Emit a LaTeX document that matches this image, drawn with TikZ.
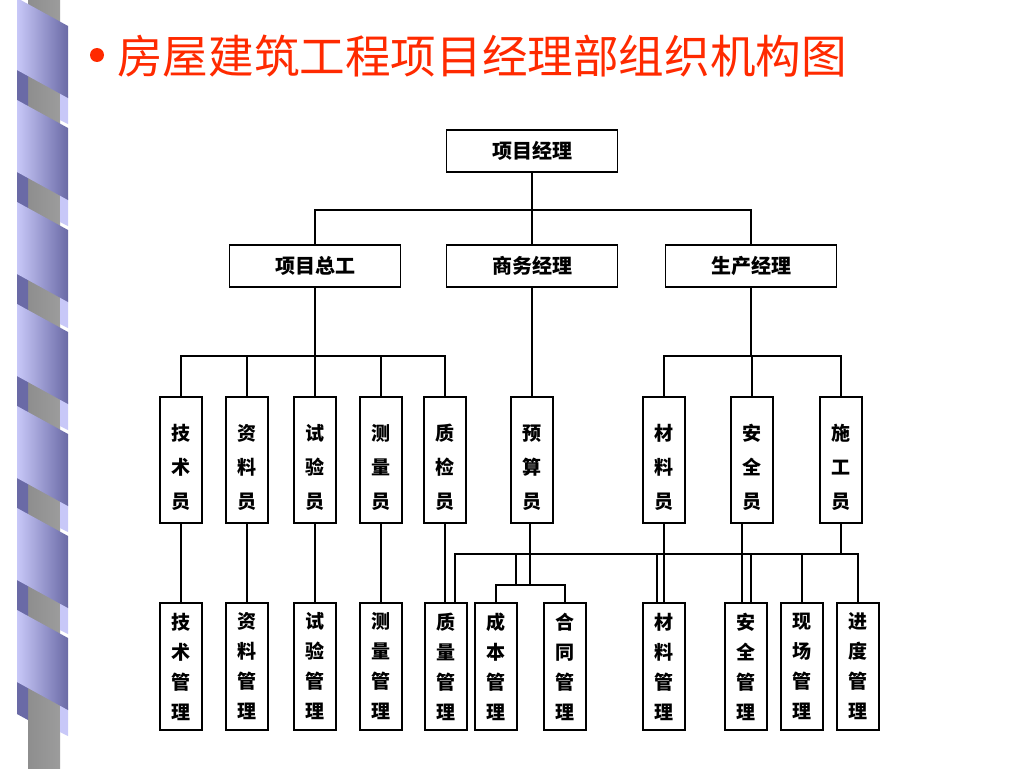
\documentclass[tikz,border=0pt]{standalone}
\usepackage{fontspec}
\newfontfamily\cjk{Noto Sans CJK SC}
\usetikzlibrary{calc}
\definecolor{titlered}{HTML}{FF2A00}
\definecolor{bandlight}{HTML}{C8C8F8}
\definecolor{banddark}{HTML}{6A6AA6}
\definecolor{cylL}{HTML}{8E8E8E}
\definecolor{cylM}{HTML}{F2F2F2}
\definecolor{cylR}{HTML}{9C9C9C}
\newcommand\vpad{\rule{0pt}{31pt}}
\tikzset{
  hbox/.style={draw, line width=1.8pt, minimum width=171pt, minimum height=42pt, inner sep=0pt,
    font=\cjk\bfseries\fontsize{20}{24}\selectfont},
  vbox/.style={draw, line width=1.8pt, minimum width=42pt, minimum height=126pt, inner sep=0pt,
    align=center, font=\cjk\bfseries\fontsize{19}{34}\selectfont},
  mbox/.style={draw, line width=1.8pt, minimum width=42pt, minimum height=127pt, inner sep=0pt,
    align=center, font=\cjk\bfseries\fontsize{19}{30}\selectfont},
  link/.style={line width=2pt},
}
\begin{document}
\begin{tikzpicture}[x=1pt,y=-1pt]
\useasboundingbox (0,0) rectangle (1024,768);
\fill[white] (0,0) rectangle (1024,768);
% decorative spiral border
\shade[left color=cylL, middle color=cylM, right color=cylR] (28,0) rectangle (60,768);
\foreach \yy in {-2,100,202,304,406,508,610}{
  \fill[banddark] (17,\yy+70) -- (28,\yy+76) -- (28,\yy+110) -- (17,\yy+104) -- cycle;
  \fill[bandlight] (60,\yy+94) -- (68,\yy+98) -- (68,\yy+126) -- (60,\yy+122) -- cycle;
}
\foreach \yy in {-2,100,202,304,406,508,610}{
  \shade[left color=bandlight, right color=banddark] (17,\yy) -- (68,\yy+28) -- (68,\yy+100) -- (17,\yy+72) -- cycle;
}
% title
\fill[titlered] (97,55) circle (7);
\node[anchor=west, inner sep=0pt, text=titlered, font=\cjk\fontsize{45.6}{50}\selectfont] (title) at (117,56) {房屋建筑工程项目经理部组织机构图};
% level 1-2
\node[hbox] (pm) at (532,151) {项目经理};
\node[hbox] (chief) at (315,266) {项目总工};
\node[hbox] (biz) at (532,266) {商务经理};
\node[hbox] (prod) at (751,266) {生产经理};
% level 3
\node[vbox] (r1) at (181,460) {\vpad 技\\术\\员};
\node[vbox] (r2) at (247,460) {\vpad 资\\料\\员};
\node[vbox] (r3) at (315,460) {\vpad 试\\验\\员};
\node[vbox] (r4) at (381,460) {\vpad 测\\量\\员};
\node[vbox] (r5) at (445,460) {\vpad 质\\检\\员};
\node[vbox] (r6) at (532,460) {\vpad 预\\算\\员};
\node[vbox] (r7) at (664,460) {\vpad 材\\料\\员};
\node[vbox] (r8) at (752,460) {\vpad 安\\全\\员};
\node[vbox] (r9) at (841,460) {\vpad 施\\工\\员};
% level 4
\node[mbox] (m1) at (181,666.5) {技\\术\\管\\理};
\node[mbox] (m2) at (247,666.5) {资\\料\\管\\理};
\node[mbox] (m3) at (315,666.5) {试\\验\\管\\理};
\node[mbox] (m4) at (381,666.5) {测\\量\\管\\理};
\node[mbox] (m5) at (446,666.5) {质\\量\\管\\理};
\node[mbox] (m6) at (496,666.5) {成\\本\\管\\理};
\node[mbox] (m7) at (565,666.5) {合\\同\\管\\理};
\node[mbox] (m8) at (664,666.5) {材\\料\\管\\理};
\node[mbox] (m9) at (746,666.5) {安\\全\\管\\理};
\node[mbox] (m10) at (802,666.5) {现\\场\\管\\理};
\node[mbox] (m11) at (858,666.5) {进\\度\\管\\理};
% bus levels
\coordinate (busT) at (0,210);
\coordinate (busL) at (0,356);
\coordinate (busB) at (0,554);
\coordinate (busC) at (0,585);
% connectors top
\draw[link] (pm.south) -- (biz.north);
\draw[link] (chief.north) -- (chief.north |- busT) -- (prod.north |- busT) -- (prod.north);
\draw[link] (chief.south) -- (chief.south |- busL);
\draw[link] (r1.north) -- (r1.north |- busL) -- (r5.north |- busL) -- (r5.north);
\draw[link] (r2.north) -- (r2.north |- busL);
\draw[link] (r3.north) -- (r3.north |- busL);
\draw[link] (r4.north) -- (r4.north |- busL);
\draw[link] (biz.south) -- (r6.north);
\draw[link] (prod.south) -- (prod.south |- busL);
\draw[link] (r7.north) -- (r7.north |- busL) -- (r9.north |- busL) -- (r9.north);
\draw[link] (r8.north) -- (r8.north |- busL);
% connectors level 3 -> 4
\draw[link] (r1.south) -- (r1.south |- m1.north);
\draw[link] (r2.south) -- (r2.south |- m2.north);
\draw[link] (r3.south) -- (r3.south |- m3.north);
\draw[link] (r4.south) -- (r4.south |- m4.north);
\draw[link] (r5.south) -- (r5.south |- m5.north);
\draw[link] (r7.south) -- (m8.north);
\draw[link] ($(r8.south)+(-10,0)$) coordinate (s8) -- (s8 |- m9.north);
\draw[link] (r9.south) -- (r9.south |- busB);
\draw[link] ($(m5.north)+(9,0)$) coordinate (q5) -- (q5 |- busB) -- (m11.north |- busB) -- (m11.north);
\draw[link] ($(m8.north)+(-7,0)$) coordinate (q8) -- (q8 |- busB);
\draw[link] ($(m9.north)+(5,0)$) coordinate (q9) -- (q9 |- busB);
\draw[link] (m10.north) -- (m10.north |- busB);
\draw[link] ($(r6.south)+(-2,0)$) coordinate (s6) -- (s6 |- busC);
\draw[link] ($(s6 |- busB)+(-14,0)$) coordinate (c1) -- (c1 |- busC);
\draw[link] (m6.north) -- (m6.north |- busC) -- (m7.north |- busC) -- (m7.north);
\end{tikzpicture}
\end{document}
